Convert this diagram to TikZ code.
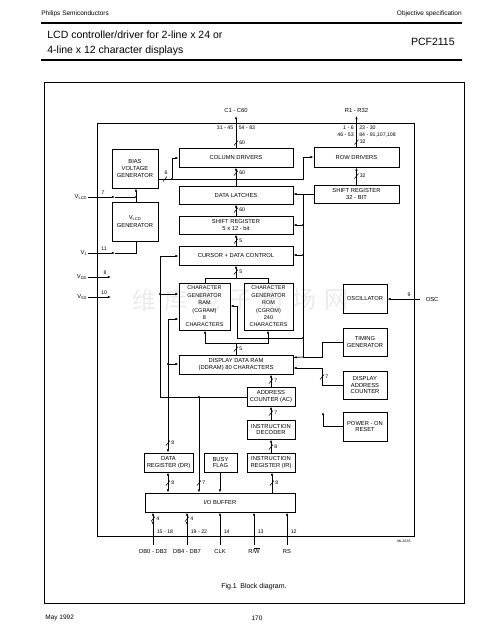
\documentclass[tikz,border=0pt]{standalone}
\usepackage{fontspec}
\setmainfont{Liberation Sans}
\newfontfamily\cjk{Noto Sans CJK SC}
\usetikzlibrary{arrows.meta,calc}
\newcommand{\vslash}[3]{\draw[line width=0.55pt] (#1-2,#2+2.5) -- (#1+2,#2-2.5); \node[num,anchor=west] at (#1+2.5,#2) {#3};}
\begin{document}
\begin{tikzpicture}[x=1pt,y=-1pt, line width=0.7pt,
 blk/.style={draw, line width=0.85pt, align=center, inner sep=0pt, font=\fontsize{5.8}{6.9}\selectfont},
 cgblk/.style={blk, font=\fontsize{5.5}{7.4}\selectfont},
 num/.style={font=\fontsize{5.2}{6}\selectfont, inner sep=0.5pt},
 lbl/.style={font=\fontsize{5.8}{6.5}\selectfont, inner sep=0.5pt},
 arr/.style={-{Latex[length=3.2pt,width=2.4pt]}},
 darr/.style={{Latex[length=3.2pt,width=2.4pt]}-{Latex[length=3.2pt,width=2.4pt]}},
 dot/.style={circle, fill, inner sep=0pt, minimum size=2.2pt}]
\useasboundingbox (0,0) rectangle (491,641);
% header
\node[anchor=west, font=\fontsize{6.5}{7}\selectfont, inner sep=0] (hdl) at (41,14) {Philips Semiconductors};
\node[anchor=east, font=\fontsize{6.5}{7}\selectfont, inner sep=0] (hdr) at (462,14) {Objective specification};
\draw[line width=1.1pt] (41,23) -- (462,23);
\node[anchor=west, font=\fontsize{10.5}{12}\selectfont, inner sep=0] (t1) at (47,35) {LCD controller/driver for 2-line x 24 or};
\node[anchor=west, font=\fontsize{10.5}{12}\selectfont, inner sep=0] (t2) at (47,51) {4-line x 12 character displays};
\node[anchor=east, font=\fontsize{10.5}{12}\selectfont, inner sep=0] (pcf) at (455,42) {PCF2115};
\draw[line width=1.1pt] (41,60) -- (462,60);
% frames
\draw[line width=0.9pt] (44,82) rectangle (464,603);
\draw[line width=0.9pt] (97,123) rectangle (414,536);
% watermark
\foreach \c [count=\i] in {维,库,电,子,市,场,网}
  \node[font=\cjk\fontsize{24}{24}\selectfont, text=black!8] at (112+32*\i,300) {\c};
% blocks
\node[blk, minimum width=46pt, minimum height=39pt] (bias) at (135,168.5) {BIAS\\VOLTAGE\\GENERATOR};
\node[blk, minimum width=46pt, minimum height=39pt] (vgen) at (135,221.5) {V\textsubscript{LCD}\\[2pt]GENERATOR};
\node[blk, minimum width=114pt, minimum height=19pt] (coldrv) at (236,157.5) {COLUMN DRIVERS};
\node[blk, minimum width=114pt, minimum height=18pt] (latch) at (236,195) {DATA LATCHES};
\node[blk, minimum width=114pt, minimum height=18pt] (srfive) at (236,225) {SHIFT REGISTER\\5 x 12 - bit};
\node[blk, minimum width=114pt, minimum height=19pt] (cursor) at (236,255.5) {CURSOR + DATA CONTROL};
\node[cgblk, minimum width=51pt, minimum height=47pt] (cgram) at (204.5,306.5) {CHARACTER\\GENERATOR\\RAM\\(CGRAM)\\8\\CHARACTERS};
\node[cgblk, minimum width=49pt, minimum height=47pt] (cgrom) at (268.5,306.5) {CHARACTER\\GENERATOR\\ROM\\(CGROM)\\240\\CHARACTERS};
\node[blk, minimum width=114pt, minimum height=19pt] (ddram) at (236,364.5) {DISPLAY DATA RAM\\(DDRAM) 80 CHARACTERS};
\node[blk, minimum width=85pt, minimum height=20pt] (rowdrv) at (356.5,157) {ROW DRIVERS};
\node[blk, minimum width=85pt, minimum height=18pt] (srtt) at (356.5,194) {SHIFT REGISTER\\32 - BIT};
\node[blk, minimum width=44pt, minimum height=29pt] (osc) at (365,298.5) {OSCILLATOR};
\node[blk, minimum width=44pt, minimum height=28pt] (timing) at (365,342) {TIMING\\GENERATOR};
\node[blk, minimum width=44pt, minimum height=28pt] (dac) at (365,385) {DISPLAY\\ADDRESS\\COUNTER};
\node[blk, minimum width=44pt, minimum height=29pt] (por) at (365,426.5) {POWER - ON\\RESET};
\node[blk, minimum width=48pt, minimum height=19pt] (ac) at (271,396.5) {ADDRESS\\COUNTER (AC)};
\node[blk, minimum width=48pt, minimum height=19pt] (idec) at (271,429.5) {INSTRUCTION\\DECODER};
\node[blk, minimum width=48pt, minimum height=19pt] (ir) at (271,462.5) {INSTRUCTION\\REGISTER (IR)};
\node[blk, minimum width=33pt, minimum height=19pt] (busy) at (220.5,462.5) {BUSY\\FLAG};
\node[blk, minimum width=49pt, minimum height=19pt] (dr) at (168.5,462.5) {DATA\\REGISTER (DR)};
\node[blk, minimum width=150pt, minimum height=19pt] (iobuf) at (220,502.5) {I/O BUFFER};
% top outputs
\coordinate (cout) at (236,116);
\draw[arr] (coldrv.north) -- (cout);
\node[lbl] (clab) at (236,110) {C1 - C60};
\node[num,anchor=east] at (234,128) {31 - 45};
\node[num,anchor=west] at (238,128) {54 - 83};
\vslash{236}{143}{60}
\coordinate (rout) at (356.5,116);
\draw[arr] (rowdrv.north) -- (rout);
\node[lbl] (rlab) at (356.5,110) {R1 - R32};
\node[num,anchor=east] at (354.5,128) {1 - 6};
\node[num,anchor=west] at (358.5,128) {23 - 30};
\node[num,anchor=east] at (354.5,135) {46 - 53};
\node[num,anchor=west] at (358.5,135) {84 - 91,107,108};
\vslash{356.5}{142}{32}
% vertical chain
\draw[arr] (latch.north) -- (coldrv.south); \vslash{236}{173}{60}
\draw[arr] (srfive.north) -- (latch.south); \vslash{236}{210}{60}
\draw[arr] (cursor.north) -- (srfive.south); \vslash{236}{241}{5}
\draw[arr] (srtt.north) -- (rowdrv.south); \vslash{356.5}{176}{32}
% bias outputs
\draw (bias.east |- 0,179) -- (303,179) -- (303,157);
\draw[arr] (303,157) -- (rowdrv.west |- 0,157);
\node[dot] (bj) at (172,179) {};
\draw[arr] (bj) -- (172,158) -- (coldrv.west |- 0,158);
\draw[line width=0.55pt] (163,181.5) -- (167,176.5);
\node[num] at (166,173) {6};
% supply pins
\node[lbl,anchor=east] (vlcd) at (88,197) {V\textsubscript{LCD}};
\draw[arr] (vlcd.east) -- (115,197);
\node[dot] (vj) at (136,197) {};
\draw (115,197) -- (vj);
\draw[arr] (vgen.north -| vj) -- (bias.south -| vj);
\node[num] at (103,193) {7};
\node[lbl,anchor=east] (vone) at (88,253) {V\textsubscript{1}};
\draw[arr] (vone.east) -- (115,253);
\draw (115,253) -- (136,253) -- (vgen.south -| vj);
\node[num] at (104,249) {11};
\node[lbl,anchor=east] (vdd) at (88,277) {V\textsubscript{DD}};
\draw[arr] (vdd.east) -- (111,277);
\node[num] at (105,273) {8};
\node[lbl,anchor=east] (vss) at (88,297) {V\textsubscript{SS}};
\draw[arr] (vss.east) -- (111,297);
\node[num] at (104,293) {10};
% oscillator pin
\node[lbl,anchor=west] (osclab) at (425,299) {OSC};
\draw[arr] (420,299) -- (osc.east |- 0,299);
\node[num] at (409,294.5) {9};
% timing bus
\draw (timing.west) -- (322,342) -- (322,357) -- (303,357);
\draw (srtt.west |- 0,194) -- (303,194) -- (303,357);
\draw[arr] (303,194) -- (latch.east |- 0,194);
\node[dot] (tj1) at (303,225) {};
\draw[arr] (tj1) -- (srfive.east |- 0,225);
\node[dot] (tj2) at (303,255) {};
\draw[arr] (tj2) -- (cursor.east |- 0,255);
\node[dot] (tj3) at (303,338) {};
\draw (tj3) -- (237,338) -- (237,306);
\draw[arr] (237,306) -- (cgram.east |- 0,306);
\draw[arr] (303,357) -- (ddram.east |- 0,357.5);
% display address counter
\draw (dac.west) -- (322,385) -- (322,368);
\draw[arr] (322,368) -- (ddram.east |- 0,368);
\vslash{322}{377}{7}
% power on reset
\draw[arr] (por.west) -- (323,426.5) -- (323,412);
% CG to cursor
\draw (cgram.north -| 205,0) -- (205,278) -- (268,278) -- (cgrom.north -| 268,0);
\draw[arr] (236,278) -- (cursor.south);
\vslash{236}{272}{5}
% DDRAM to CG
\draw (ddram.north) -- (236,343);
\draw[arr] (236,343) -- (205,343) -- (cgram.south -| 205,0);
\draw[arr] (236,343) -- (268,343) -- (cgrom.south -| 268,0);
\vslash{236}{349}{5}
% instruction path
\draw[arr] (ac.north) -- (ddram.south -| ac.north); \vslash{271}{381}{7}
\draw[arr] (idec.north) -- (ac.south); \vslash{271}{413}{7}
\draw[arr] (ir.north) -- (idec.south); \vslash{271}{447}{8}
\draw[arr] (iobuf.north -| 272,0) -- (ir.south -| 272,0); \vslash{272}{483}{8}
\draw[arr] (busy.south -| 220,0) -- (iobuf.north -| 220,0);
\draw[darr] (dr.south -| 168,0) -- (iobuf.north -| 168,0); \vslash{168}{483}{8}
% AC bus
\draw (ac.west |- 0,397) -- (160,397) -- (160,256);
\draw[arr] (160,256) -- (cursor.west |- 0,256);
\node[dot] (aj1) at (160,294) {};
\draw[arr] (aj1) -- (cgram.west |- 0,294);
\node[dot] (aj2) at (199,397) {};
\draw[arr] (aj2) -- (iobuf.north -| aj2); \vslash{199}{483}{7}
% DR bus
\draw[arr] (168,319) -- (cgram.west |- 0,319);
\draw[arr] (168,319) -- (dr.north -| 168,0);
\node[dot] (dj) at (168,364) {};
\draw[arr] (dj) -- (ddram.west |- 0,364);
\vslash{168}{443}{8}
% bottom pins
\foreach \x/\lab/\pn [count=\i] in {153/DB0 - DB3/15 - 18, 187/DB4 - DB7/19 - 22, 220/CLK/14, 254/{R/$\overline{\mathrm{W}}$}/13, 287/RS/12}{
  \node[lbl] (pin\i) at (\x,551) {\lab};
  \draw[arr] (\x,545) -- (iobuf.south -| \x,0);
  \node[num,anchor=west] at (\x+3,532) {\pn};
}
\draw[arr] (153,518) -- (153,525); \vslash{153}{519}{4}
\draw[arr] (187,518) -- (187,525); \vslash{187}{519}{4}
\node[font=\fontsize{3.5}{4}\selectfont] (mla) at (404,541) {MLA535};
% caption and footer
\node[font=\fontsize{7}{8}\selectfont] (cap) at (254,587) {Fig.1\enspace Block diagram.};
\node[anchor=west, font=\fontsize{6.5}{7}\selectfont, inner sep=0] (may) at (45,618) {May 1992};
\node[font=\fontsize{6.5}{7}\selectfont, inner sep=0] (pg) at (257,618) {170};
\end{tikzpicture}
\end{document}
